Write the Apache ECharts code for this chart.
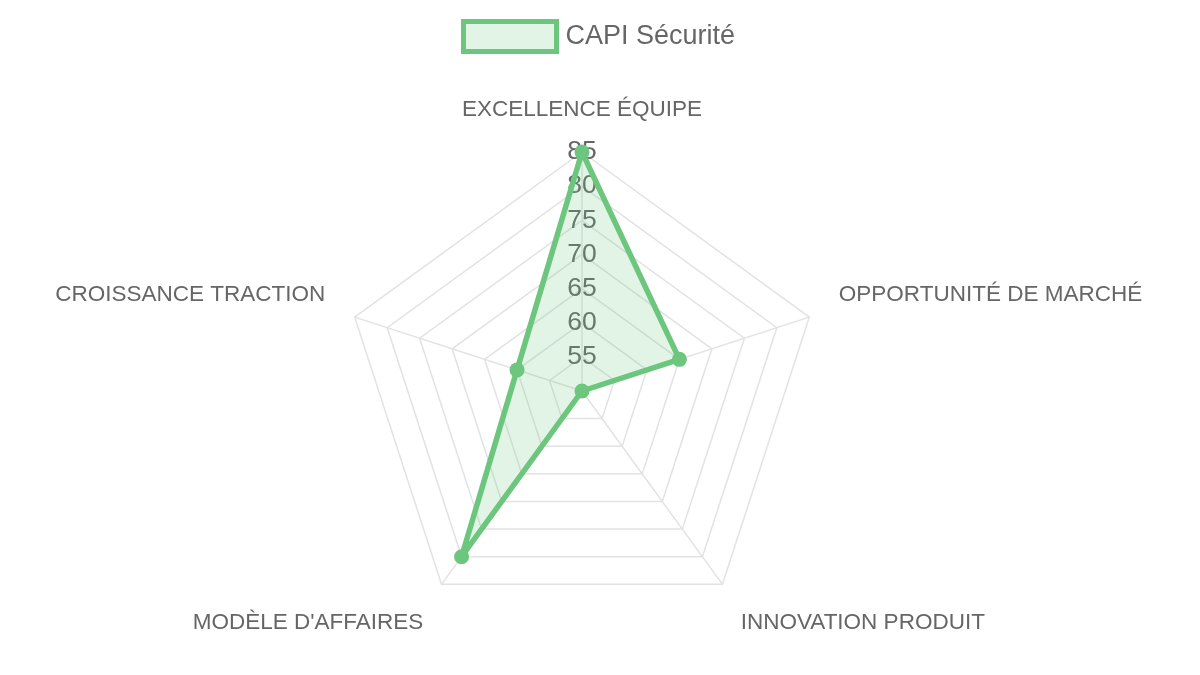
<!DOCTYPE html>
<html>
<head>
<meta charset="utf-8">
<script src="https://cdn.jsdelivr.net/npm/echarts@6/dist/echarts.min.js"></script>
<style>
    html, body { margin: 0; padding: 0; background: #fff; }
    #chart { width: 1200px; height: 675px; }
</style>
</head>
<body>
<div id="chart"></div>
<script>
// axes in drawing order (ECharts goes counter-clockwise from the top)
var axes = ['EXCELLENCE ÉQUIPE', 'CROISSANCE TRACTION', "MODÈLE D'AFFAIRES", 'INNOVATION PRODUIT', 'OPPORTUNITÉ DE MARCHÉ']
var scores = [85, 60, 80, 50, 65]
var seriesName = 'CAPI Sécurité'
var scaleMin = 50
var scaleMax = 85

var green = '#6cc67d'
var fill = 'rgba(108,198,125,0.2)'
var font = "'Liberation Sans', Arial, Helvetica, sans-serif"
// labels that sit below the centre
var lowerNames = ["MODÈLE D'AFFAIRES", 'INNOVATION PRODUIT']

var chart = echarts.init(document.getElementById('chart'))

chart.setOption({
    animation: false,
    legend: {
        data: [seriesName],
        left: 456,
        top: 14,
        icon: 'rect',
        itemWidth: 93,
        itemHeight: 30,
        itemGap: 10,
        itemStyle: {
            color: fill,
            borderColor: green,
            borderWidth: 5
        },
        textStyle: {
            color: '#666',
            fontSize: 27,
            fontFamily: font,
            padding: [0, 0, 0, 4]
        }
    },
    radar: {
        center: [582, 391],
        radius: 239,
        startAngle: 90,
        shape: 'polygon',
        splitNumber: 7,
        nameGap: 31,
        indicator: axes.map(function (name, i) {
            var item = { name: name, min: scaleMin, max: scaleMax }
            if (i === 0) {
                // only the top axis carries the tick labels
                item.axisLabel = {
                    show: true,
                    showMinLabel: false,
                    margin: 0,
                    align: 'center',
                    verticalAlign: 'middle',
                    color: '#666',
                    fontSize: 26.5,
                    fontFamily: font
                }
            }
            return item
        }),
        axisName: {
            color: '#666',
            fontSize: 22.5,
            fontFamily: font,
            formatter: function (name) {
                if (name === axes[0]) return '{top|' + name + '}'
                if (lowerNames.indexOf(name) >= 0) return '{down|' + name + '}'
                return '{up|' + name + '}'
            },
            rich: {
                top: { color: '#666', fontSize: 22.5, fontFamily: font },
                up: { color: '#666', fontSize: 22.5, fontFamily: font, padding: [0, 0, 26, 0] },
                down: { color: '#666', fontSize: 22.5, fontFamily: font, padding: [26, 0, 0, 0] }
            }
        },
        axisLine: { lineStyle: { color: '#e2e2e2', width: 1.5 } },
        splitLine: { lineStyle: { color: '#e2e2e2', width: 1.5 } },
        splitArea: { show: false },
        axisTick: { show: false }
    },
    series: [
        {
            name: seriesName,
            type: 'radar',
            symbol: 'circle',
            symbolSize: 15,
            itemStyle: { color: green },
            lineStyle: { color: green, width: 5.5 },
            areaStyle: { color: fill, opacity: 1 },
            data: [{ name: seriesName, value: scores }]
        }
    ]
})
</script>
</body>
</html>
